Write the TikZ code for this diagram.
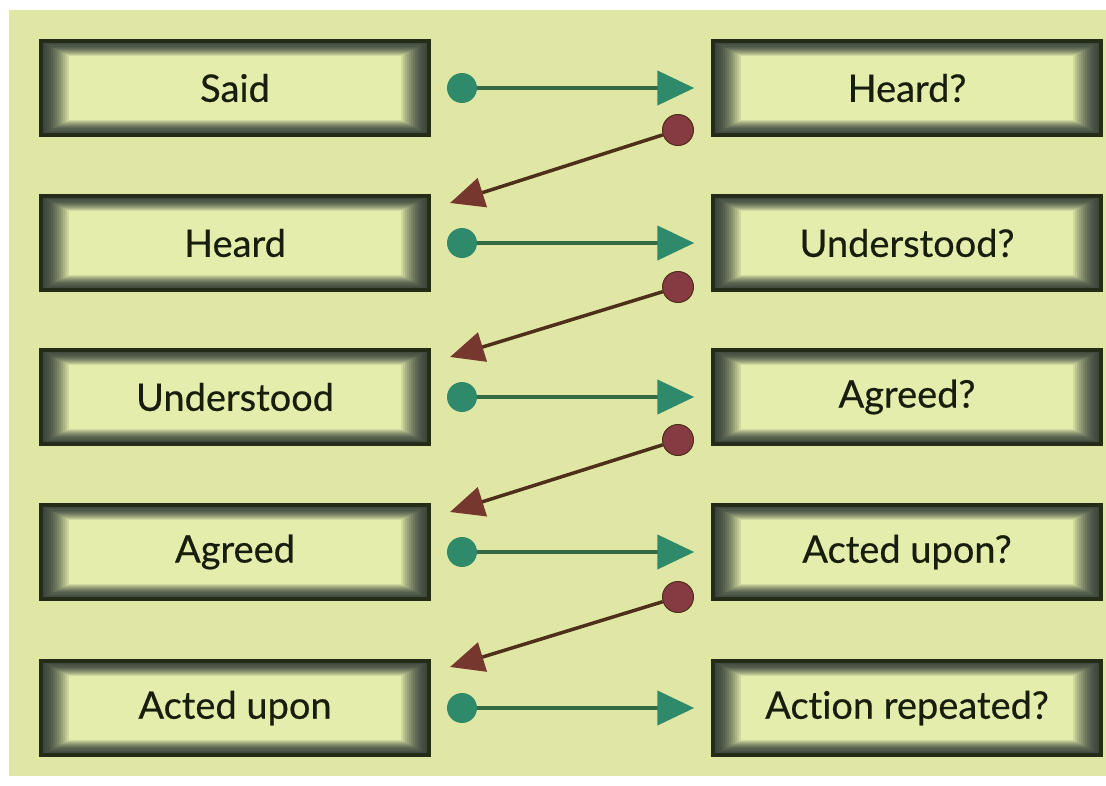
\documentclass[tikz,border=0pt]{standalone}
\usepackage{fontspec}
\setmainfont{Lato}[Ligatures=NoCommon, FakeBold=0.5]
\usetikzlibrary{arrows.meta}
\definecolor{bg}{RGB}{224,231,164}
\definecolor{inner}{RGB}{229,237,172}
\definecolor{framedark}{RGB}{60,70,60}
\definecolor{boxdark}{RGB}{36,44,24}
\definecolor{txt}{RGB}{24,30,14}
\definecolor{gdot}{RGB}{46,138,106}
\definecolor{gline}{RGB}{52,106,66}
\definecolor{bdot}{RGB}{134,58,66}
\definecolor{bline}{RGB}{78,48,26}
\definecolor{bhead}{RGB}{118,56,46}
\tikzset{
  stepbox/.style={minimum width=388pt, minimum height=94pt, inner sep=0pt,
    draw=boxdark, line width=3.5pt, text=txt, font=\fontsize{38}{40}\selectfont,
    path picture={
      \foreach \i in {0,...,14}{
        \pgfmathsetmacro\t{(\i/14)^1.8*100}
        \fill[inner!\t!framedark]
          ([xshift=\i*2pt,yshift=-\i*1.1pt]path picture bounding box.north west)
          rectangle
          ([xshift=-\i*2pt,yshift=\i*1.1pt]path picture bounding box.south east);
      }
    }},
  gdotst/.style={circle, fill=gdot, minimum size=30pt, inner sep=0pt},
  bdotst/.style={circle, fill=bdot, draw=bline, line width=1pt, minimum size=31pt, inner sep=0pt},
  garrow/.style={draw=gline, line width=4.5pt, shorten >=17pt,
    -{Triangle[length=37pt,width=34pt,fill=gdot,color=gdot]}},
  barrow/.style={draw=bline, line width=3.5pt,
    -{Triangle[length=34pt,width=30pt,fill=bhead,color=bhead]}}
}
\begin{document}
\begin{tikzpicture}[x=1pt,y=-1pt]
\useasboundingbox (0,0) rectangle (1106,785);
\fill[white] (0,0) rectangle (1106,785);
\fill[bg] (9,10) rectangle (1106,776);
% boxes and green connectors
\foreach \n/\y/\l/\r in {1/88/Said/Heard?,2/243/Heard/Understood?,3/397/Understood/Agreed?,4/552/Agreed/Acted upon?,5/708/Acted upon/Action repeated?}{
  \node[stepbox] (L\n) at (235,\y) {\l};
  \node[stepbox] (R\n) at (907,\y) {\r};
  \node[gdotst] (g\n) at (462,\y) {};
  \draw[garrow] (g\n) -- (R\n);
}
% brown connectors
\foreach \n/\y/\yy in {1/130/203,2/287/357,3/440/512,4/597/667}{
  \coordinate (t\n) at (450,\yy);
  \node[bdotst] (b\n) at (678,\y) {};
  \draw[barrow] (b\n) -- (t\n);
}
\end{tikzpicture}
\end{document}
